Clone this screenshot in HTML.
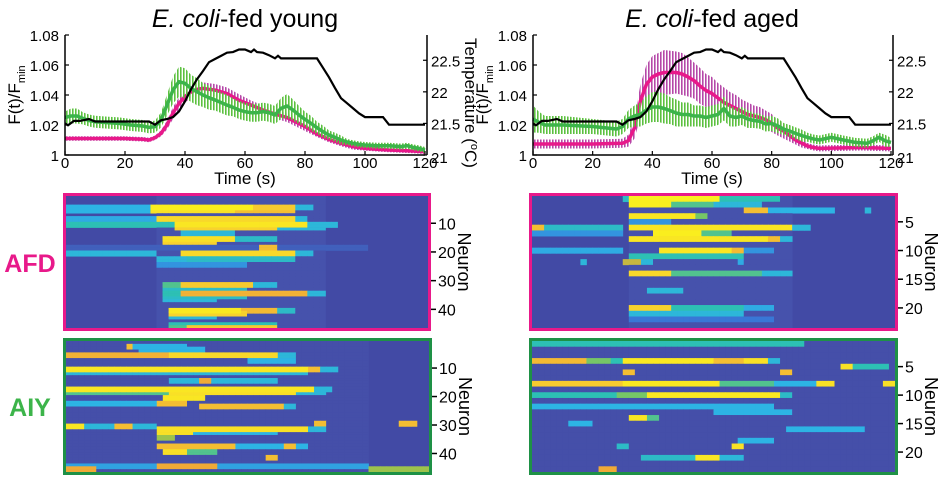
<!DOCTYPE html>
<html><head><meta charset="utf-8"><style>
html,body{margin:0;padding:0;background:#fff;width:952px;height:490px;overflow:hidden}
svg{display:block;font-family:"Liberation Sans",sans-serif}
</style></head><body>
<svg id="fig" width="952" height="490" viewBox="0 0 952 490">
<defs>
<pattern id="pPink" width="3" height="10" patternUnits="userSpaceOnUse"><rect width="1.6" height="10" fill="#b548a8"/></pattern>
<pattern id="pGreen" width="3" height="10" patternUnits="userSpaceOnUse"><rect width="1.6" height="10" fill="#5cc040"/></pattern>
</defs>
<text x="245" y="27" font-size="25" text-anchor="middle"><tspan font-style="italic">E. coli</tspan>-fed young</text>
<text x="712" y="27" font-size="25" text-anchor="middle"><tspan font-style="italic">E. coli</tspan>-fed aged</text>
<text x="30" y="272" font-size="25" font-weight="bold" fill="#e8198a" text-anchor="middle">AFD</text>
<text x="30" y="416" font-size="25" font-weight="bold" fill="#3cb44a" text-anchor="middle">AIY</text>
<g id="chartL"></g>
<g id="chartR"></g>
<g id="hmLA"></g>
<g id="hmRA"></g>
<g id="hmLI"></g>
<g id="hmRI"></g>
</svg>
<script>
// ---- temperature (shared) ----
const tTemp=[0,1,3,5,8,10,12,28,30,32,34,36,38,40,42,44,46,48,50,52,54,56,58,60,62,63,64,66,68,70,71,72,74,84,86,88,90,92,94,96,98,100,106,108,120];
const vTemp=[21.5,21.47,21.54,21.54,21.57,21.53,21.53,21.53,21.48,21.55,21.57,21.6,21.69,21.85,22.04,22.2,22.33,22.47,22.52,22.57,22.62,22.63,22.67,22.67,22.63,22.67,22.63,22.62,22.58,22.53,22.57,22.53,22.53,22.53,22.38,22.23,22.06,21.9,21.82,21.74,21.66,21.6,21.6,21.48,21.48];
// ---- young ----
const tPinkY=[0,10,20,26,28,30,32,34,36,38,40,42,44,46,48,50,54,58,62,66,70,74,78,80,84,88,92,96,100,108,116,120];
const vPinkY=[1.011,1.011,1.011,1.0105,1.010,1.0115,1.0144,1.02,1.028,1.0344,1.039,1.042,1.0438,1.0444,1.0438,1.0433,1.041,1.0365,1.0333,1.030,1.0273,1.025,1.021,1.019,1.014,1.0104,1.0078,1.0056,1.0044,1.0033,1.0027,1.0022];
const ePinkY=[.0015,.0015,.0015,.0015,.0015,.0015,.002,.003,.004,.004,.004,.004,.004,.004,.004,.004,.004,.004,.003,.003,.003,.003,.003,.003,.002,.002,.002,.002,.0015,.0015,.0015,.0015];
const tGreenY=[0,2,4,6,8,10,14,18,22,26,28,30,32,34,36,38,40,42,44,46,48,50,52,54,56,58,60,62,64,66,68,70,72,74,76,78,80,82,84,86,88,90,92,94,96,98,100,104,108,112,114,116,118,120];
const vGreenY=[1.025,1.026,1.026,1.0244,1.023,1.0222,1.0216,1.0211,1.020,1.0193,1.0184,1.0189,1.0233,1.0333,1.0433,1.0489,1.0478,1.0444,1.0422,1.040,1.0382,1.0367,1.035,1.0333,1.0318,1.030,1.0289,1.0282,1.0282,1.0289,1.0282,1.0267,1.0311,1.0327,1.030,1.0267,1.0238,1.0211,1.0182,1.0156,1.0133,1.0118,1.010,1.0087,1.0078,1.0071,1.0067,1.0062,1.0062,1.0056,1.0062,1.0051,1.0044,1.0033];
const eGreenY=[.004,.005,.005,.004,.004,.004,.004,.004,.004,.004,.004,.004,.005,.007,.009,.010,.010,.009,.009,.008,.008,.007,.007,.007,.006,.006,.006,.006,.006,.006,.006,.006,.007,.008,.007,.006,.005,.005,.004,.004,.003,.003,.003,.002,.002,.002,.002,.002,.002,.002,.002,.002,.002,.002];
// ---- aged ----
const tPinkA=[0,10,20,30,32,34,36,38,40,42,44,48,50,52,54,56,58,60,62,64,66,68,70,72,74,76,78,80,82,84,86,88,90,92,94,96,110,120];
const vPinkA=[1.0073,1.0073,1.0073,1.0078,1.0096,1.018,1.036,1.047,1.052,1.054,1.055,1.055,1.054,1.052,1.0496,1.046,1.043,1.041,1.038,1.035,1.033,1.031,1.029,1.027,1.026,1.025,1.0236,1.0213,1.018,1.016,1.013,1.010,1.008,1.006,1.005,1.0044,1.005,1.0044];
const ePinkA=[.003,.003,.003,.003,.004,.007,.011,.013,.014,.014,.015,.014,.014,.013,.012,.012,.011,.011,.010,.010,.009,.009,.008,.008,.007,.007,.006,.006,.005,.005,.004,.003,.003,.002,.002,.002,.002,.002];
const tGreenA=[0,2,4,10,20,28,30,32,34,36,38,40,42,44,46,48,50,52,54,56,58,60,62,64,66,68,70,72,74,76,78,80,82,84,86,88,90,92,94,96,100,104,108,112,114,116,118,120];
const vGreenA=[1.024,1.0218,1.020,1.020,1.019,1.0173,1.019,1.024,1.026,1.027,1.030,1.032,1.032,1.031,1.0296,1.028,1.027,1.027,1.026,1.026,1.025,1.026,1.027,1.031,1.026,1.025,1.026,1.024,1.023,1.0225,1.0207,1.021,1.0195,1.0173,1.016,1.0144,1.013,1.0118,1.0107,1.010,1.0118,1.010,1.0084,1.0078,1.0095,1.0118,1.0095,1.0084];
const eGreenA=[.009,.007,.006,.006,.005,.005,.005,.006,.007,.008,.009,.010,.010,.010,.009,.009,.008,.008,.007,.007,.007,.007,.007,.008,.007,.006,.006,.006,.005,.005,.005,.005,.005,.004,.004,.004,.004,.003,.003,.003,.003,.003,.003,.003,.003,.003,.004,.003];
const xTicks=[0,20,40,60,80,100,120];
const yTicks=[1,1.02,1.04,1.06,1.08];
const yTickLabels=["1","1.02","1.04","1.06","1.08"];
const tempTicks=[21,21.5,22,22.5];
const tempTickLabels=["21","21.5","22","22.5"];

// ---- heatmaps: [row, [[t0,t1,value],...]] ----
const hmBaseLA=[[30,85,0.15]];
const hmRowsLA=[[4,[[0,28,0.42],[29,62,1],[62,76,0.88],[76,82,0.45]]],[5,[[0,28,0.42],[29,55,0.95],[55,75,0.85]]],[8,[[0,30,0.4],[30,75,0.92],[75,80,0.45]]],[10,[[0,35,0.55],[36,80,0.97],[80,90,0.45]]],[11,[[36,70,0.9],[70,85,0.45]]],[13,[[38,55,0.45]]],[15,[[32,56,0.95],[56,70,0.5]]],[16,[[32,50,0.9]]],[18,[[65,70,0.85],[0,100,0.2]]],[20,[[0,30,0.45],[38,75,0.92],[75,82,0.45]]],[22,[[30,40,0.45],[40,75,0.5]]],[24,[[30,60,0.35]]],[31,[[33,38,0.6],[38,62,0.88],[62,70,0.45]]],[32,[[33,60,0.5]]],[34,[[32,38,0.55],[38,80,0.82],[80,86,0.45]]],[35,[[32,60,0.5]]],[36,[[32,50,0.45]]],[40,[[35,58,0.98],[58,70,0.84],[70,75,0.5]]],[41,[[35,60,0.9]]],[42,[[35,50,0.45]]],[45,[[35,70,0.55]]],[46,[[35,40,0.6],[40,70,0.88]]]];
const hmBaseRA=[[32,85,0.15]];
const hmRowsRA=[[1,[[30,33,0.5],[33,62,1],[62,82,0.55]]],[2,[[33,45,1],[45,60,0.6],[60,75,0.45]]],[3,[[0,30,0.05],[70,78,0.85],[78,100,0.42],[110,112,0.45]]],[4,[[33,53,0.97],[53,58,0.65]]],[5,[[33,45,0.35]]],[6,[[0,3,0.85],[3,30,0.5],[33,86,0.97],[86,92,0.45]]],[7,[[0,30,0.35],[40,55,1],[55,65,0.6]]],[8,[[32,78,0.97],[78,82,0.85],[82,86,0.45]]],[10,[[0,30,0.4],[43,65,0.97],[65,70,0.84],[70,80,0.35]]],[11,[[33,70,0.55]]],[12,[[16,18,0.45],[30,35,0.75],[35,40,0.45],[68,70,0.4]]],[14,[[33,45,0.92],[45,75,0.6],[75,85,0.45]]],[17,[[38,50,0.45]]],[20,[[33,45,0.9],[45,70,0.55],[70,80,0.4]]],[21,[[33,70,0.45]]],[22,[[33,80,0.28]]]];
const hmBaseLI=[[0,100,0.13]];
const hmRowsLI=[[2,[[20,40,0.42],[20,22,0.85]]],[3,[[25,45,0.42]]],[5,[[0,35,0.82],[35,70,0.92],[70,75,0.45]]],[7,[[60,75,0.42]]],[10,[[0,80,0.97],[80,84,0.85],[84,90,0.45]]],[11,[[0,80,0.45]]],[14,[[35,70,0.45],[45,48,0.8]]],[17,[[0,82,0.97],[82,88,0.45]]],[18,[[0,35,0.6],[35,75,0.95],[75,85,0.45]]],[20,[[32,45,0.97]]],[22,[[0,30,0.42],[31,39,0.85]]],[23,[[45,72,0.85],[72,76,0.45]]],[29,[[82,86,0.85],[111,115,0.85]]],[30,[[0,5,0.97],[17,22,0.85],[0,30,0.45]]],[31,[[30,80,0.95],[80,85,0.45]]],[32,[[30,42,0.95],[42,70,0.42]]],[34,[[30,35,0.7]]],[37,[[31,55,0.85],[55,80,0.42],[72,75,0.85]]],[39,[[33,40,0.95],[40,50,0.6]]],[41,[[66,70,0.85]]],[44,[[0,100,0.38],[30,50,0.8]]],[45,[[0,10,0.8],[100,120,0.7]]]];
const hmBaseRI=[[0,120,0.13]];
const hmRowsRI=[[1,[[0,90,0.55]]],[4,[[0,18,0.84],[18,25,0.65],[25,31,0.55],[31,60,0.98],[60,70,0.85],[70,77,0.95],[77,82,0.45]]],[5,[[102,106,0.95],[106,118,0.55]]],[6,[[30,34,0.85],[82,86,0.85]]],[8,[[0,30,0.88],[30,62,0.98],[62,80,0.6],[80,95,0.42],[95,99,0.95],[116,120,0.95]]],[10,[[0,28,0.55],[28,38,0.65],[38,82,0.98],[82,86,0.5]]],[12,[[0,80,0.42]]],[13,[[60,85,0.42]]],[14,[[33,38,0.97],[38,42,0.6]]],[15,[[12,20,0.42]]],[16,[[85,110,0.42]]],[18,[[68,80,0.42]]],[19,[[28,32,0.5],[66,70,0.95]]],[21,[[37,55,0.5],[55,62,0.97],[62,70,0.45]]],[23,[[23,28,0.8]]]];

const NS='http://www.w3.org/2000/svg';
function mk(parent,tag,attrs){const e=document.createElementNS(NS,tag);for(const k in attrs)e.setAttribute(k,attrs[k]);parent.appendChild(e);return e;}

function drawChart(g,x0,x1,yTop,yBot,series,showTempLabel){
  const sx=t=>x0+(x1-x0)*t/120;
  const sy=v=>yBot-(yBot-yTop)*(v-1)/0.08;
  const st=v=>yBot-(yBot-yTop)*(v-21)/1.9;
  series.forEach(s=>{
    let up='',dn='';
    s.t.forEach((t,i)=>{up+=(i?'L':'M')+sx(t)+','+sy(s.v[i]+s.e[i]);});
    for(let i=s.t.length-1;i>=0;i--)dn+='L'+sx(s.t[i])+','+sy(s.v[i]-s.e[i]);
    const band=mk(g,'path',{d:up+dn+'Z',fill:s.pat});
    
    
    const line=mk(g,'polyline',{points:s.t.map((t,i)=>sx(t)+','+sy(s.v[i])).join(' '),fill:'none',stroke:s.col,'stroke-width':3.5,'stroke-linejoin':'round'});
    
    
  });
  const tl=mk(g,'polyline',{points:tTemp.map((t,i)=>sx(t)+','+st(vTemp[i])).join(' '),fill:'none',stroke:'#000','stroke-width':2.2});
  
  
  const ax=mk(g,'path',{d:`M${x0},${yTop}V${yBot}H${x1}M${x1+2},${yTop}V${yBot}`,fill:'none',stroke:'#000','stroke-width':1.5});
  
  
  xTicks.forEach(t=>{
    mk(g,'line',{x1:sx(t),x2:sx(t),y1:yBot,y2:yBot-4,stroke:'#000','stroke-width':1.2});
    const lb=mk(g,'text',{x:sx(t),y:yBot+13,'font-size':15,'text-anchor':'middle'});lb.textContent=t;
    
    
  });
  yTicks.forEach((v,i)=>{
    mk(g,'line',{x1:x0,x2:x0+4,y1:sy(v),y2:sy(v),stroke:'#000','stroke-width':1.2});
    const lb=mk(g,'text',{x:x0-6,y:sy(v)+6,'font-size':15,'text-anchor':'end'});lb.textContent=yTickLabels[i];
    
    
  });
  tempTicks.forEach((v,i)=>{
    mk(g,'line',{x1:x1+2,x2:x1-2,y1:st(v),y2:st(v),stroke:'#000','stroke-width':1.2});
    const lb=mk(g,'text',{x:x1+6,y:st(v)+6+(i==0?2:0),'font-size':15});lb.textContent=tempTickLabels[i];
    
    
  });
  const xt=mk(g,'text',{x:(x0+x1)/2,y:yBot+29,'font-size':17,'text-anchor':'middle'});xt.textContent='Time (s)';
  
  
  const yt=mk(g,'text',{transform:`translate(${x0-45},${(yTop+yBot)/2}) rotate(-90)`,'font-size':17,'text-anchor':'middle'});
  yt.innerHTML='F(t)/F<tspan font-size="11" dy="5">min</tspan>';
  
  
  if(showTempLabel){
    const tt=mk(g,'text',{transform:`translate(${x1+40},${(yTop+yBot)/2+8}) rotate(90)`,'font-size':17,'text-anchor':'middle'});
    tt.innerHTML='Temperature (<tspan font-size="11" dy="-6">o</tspan><tspan dy="6">C)</tspan>';
    
    
  }
}
drawChart(document.getElementById('chartL'),65,425,35,155,[
 {name:'afd-young',t:tPinkY,v:vPinkY,e:ePinkY,col:'#e8198a',pat:'url(#pPink)'},
 {name:'aiy-young',t:tGreenY,v:vGreenY,e:eGreenY,col:'#3cb44a',pat:'url(#pGreen)'}],true);
drawChart(document.getElementById('chartR'),533,891,35,155,[
 {name:'afd-aged',t:tPinkA,v:vPinkA,e:ePinkA,col:'#e8198a',pat:'url(#pPink)'},
 {name:'aiy-aged',t:tGreenA,v:vGreenA,e:eGreenA,col:'#3cb44a',pat:'url(#pGreen)'}],false);

const stops=[[0,[59,59,152]],[0.15,[70,82,172]],[0.3,[55,125,220]],[0.42,[45,180,228]],[0.55,[45,192,180]],[0.68,[140,200,80]],[0.8,[240,170,55]],[0.9,[248,210,45]],[1,[250,238,30]]];
function cmap(v){v=Math.max(0,Math.min(1,v));for(let i=1;i<stops.length;i++){if(v<=stops[i][0]){const a=stops[i-1],b=stops[i],f=(v-a[0])/(b[0]-a[0]);return 'rgb('+a[1].map((c,k)=>Math.round(c+(b[1][k]-c)*f)).join(',')+')';}}return 'rgb(250,238,30)';}

function drawHeat(g,ox,oy,ow,oh,border,nRows,base,rows,ticks,spread){
  const ix=ox+3,iy=oy+3,iw=ow-6,ih=oh-6,rh=ih/nRows,nc=60,cw=iw/nc;
  const rowMap={};
  rows.forEach(r=>{for(let k=0;k<spread;k++){const rr=r[0]+k;rowMap[rr]=(rowMap[rr]||[]).concat(r[1]);}});
  mk(g,'rect',{x:ix,y:iy,width:iw,height:ih,fill:cmap(0.1)});
  for(let r=1;r<=nRows;r++){
    const segs=base.concat(rowMap[r]||[]);
    for(let c=0;c<nc;c++){
      const t=c*2+1;let v=0.1;
      segs.forEach(s=>{if(t>=s[0]&&t<=s[1])v=Math.max(v,s[2]);});
      if(v>0.1){
        const cell=mk(g,'rect',{x:(ix+c*cw).toFixed(2),y:(iy+(r-1)*rh).toFixed(2),width:(cw+0.4).toFixed(2),height:(rh+0.3).toFixed(2),fill:cmap(v)});
        
        
      }
    }
  }
  const b=mk(g,'rect',{x:ox+1.5,y:oy+1.5,width:ow-3,height:oh-3,fill:'none',stroke:border,'stroke-width':3});
  
  
  ticks.forEach(n=>{
    const y=iy+(n-0.5)*rh;
    mk(g,'line',{x1:ox+ow,x2:ox+ow+5,y1:y,y2:y,stroke:'#000','stroke-width':1.5});
    const lb=mk(g,'text',{x:ox+ow+7,y:y+6,'font-size':16});lb.textContent=n;
    
    
  });
  const nt=mk(g,'text',{transform:`translate(${ox+ow+27},${oy+oh/2}) rotate(90)`,'font-size':18,'text-anchor':'middle'});nt.textContent='Neuron';
  
  
}
drawHeat(document.getElementById('hmLA'),63,193,368,138,'#e8198a',46,hmBaseLA,hmRowsLA,[10,20,30,40],2);
drawHeat(document.getElementById('hmRA'),529,193,369,138,'#e8198a',23,hmBaseRA,hmRowsRA,[5,10,15,20],1);
drawHeat(document.getElementById('hmLI'),63,338,369,137,'#1e9146',46,hmBaseLI,hmRowsLI,[10,20,30,40],2);
drawHeat(document.getElementById('hmRI'),529,338,369,137,'#1e9146',23,hmBaseRI,hmRowsRI,[5,10,15,20],1);
</script>
</body></html>
